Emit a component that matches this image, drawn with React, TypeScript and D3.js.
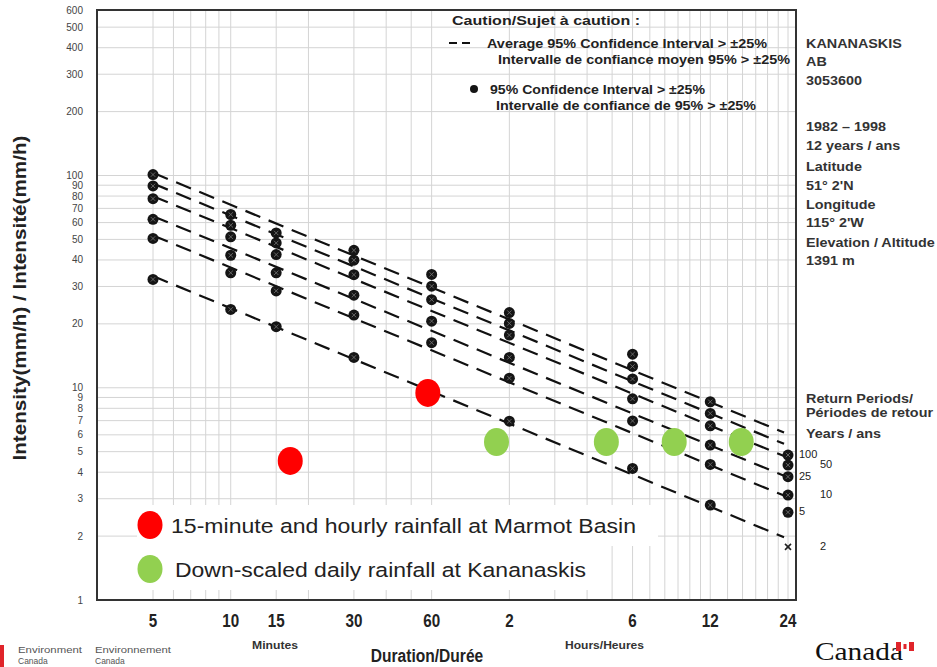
import React, { useEffect } from 'react';
import * as d3 from 'd3';

// durations in minutes
const durations = [5, 10, 15, 30, 60, 120, 360, 720, 1440];
const durationLabels = ['5', '10', '15', '30', '60', '2', '6', '12', '24'];

const returnPeriods = [2, 5, 10, 25, 50, 100];
// intensity (mm/h) per return period, one value per duration
const rp2 = [32.4, 23.4, 19.4, 13.9, 9.6, 6.96, 4.17, 2.8, 1.78];
const rp5 = [50.5, 34.8, 28.6, 22.0, 16.3, 11.1, 6.98, 4.35, 2.59];
const rp10 = [62.2, 42.1, 34.8, 27.3, 20.6, 13.9, 8.87, 5.37, 3.12];
const rp25 = [77.8, 51.4, 42.4, 34.1, 26.0, 17.7, 11.0, 6.62, 3.81];
const rp50 = [89.3, 58.3, 48.1, 39.9, 30.1, 20.1, 12.6, 7.57, 4.32];
const rp100 = [101, 65.5, 53.6, 44.4, 34.2, 22.6, 14.4, 8.59, 4.82];
const seriesValues = [rp2, rp5, rp10, rp25, rp50, rp100];

// points drawn as plain "x" (confidence interval not exceeded)
const crossPoints = [{ rp: 2, minutes: 1440 }];

// observed overlays
const marmotMinutes = [17, 58];
const marmotIntensity = [4.52, 9.45];
const kananaskisMinutes = [107, 285, 522, 949];
const kananaskisIntensity = [5.55, 5.55, 5.55, 5.55];

const yTicks = [1, 2, 3, 4, 5, 6, 7, 8, 9, 10, 20, 30, 40, 50, 60, 70, 80, 90, 100, 200, 300, 400, 500, 600];
const xGrid = [5, 6, 7, 8, 9, 10, 15, 20, 30, 40, 50, 60, 120, 180, 240, 300, 360, 420, 480, 540, 600, 660, 720, 840, 960, 1080, 1200, 1320, 1440];

const stationInfo = [
  ['KANANASKIS', 48], ['AB', 66], ['3053600', 85],
  ['1982 – 1998', 131], ['12 years / ans', 150],
  ['Latitude', 171], ['51°  2\'N', 190],
  ['Longitude', 209], ['115° 2\'W', 227],
  ['Elevation / Altitude', 247], ['1391 m', 265],
  ['Return Periods/', 403], ['Périodes de retour', 417], ['Years / ans', 438],
] as const;

const W = 937;
const H = 667;
const plot = { left: 97, right: 796, top: 10, bottom: 600 };

const x = d3.scaleLog().domain([5, 1440]).range([153, 788]);
const y = d3.scaleLog().domain([1, 100]).range([600, 175.5]);

// least squares fit in log-log space
function fit(vals: number[]) {
  const lx = durations.map(Math.log10);
  const ly = vals.map(Math.log10);
  const mx = d3.mean(lx)!;
  const my = d3.mean(ly)!;
  const b = d3.sum(lx, (v, i) => (v - mx) * (ly[i] - my)) / d3.sum(lx, v => (v - mx) ** 2);
  const a = my - b * mx;
  return (t: number) => Math.pow(10, a + b * Math.log10(t));
}

const App: React.FC = () => {
  useEffect(() => {
    document.body.style.margin = '0';
  }, []);

  const font = 'Liberation Sans, Arial, sans-serif';

  return (
    <svg width={W} height={H} style={{ display: 'block', background: '#fff' }} fontFamily={font}>
      {/* grid */}
      <g stroke="#d4d4d4" strokeWidth={1}>
        {yTicks.map(v => (
          <line key={'h' + v} x1={plot.left} x2={plot.right} y1={y(v)} y2={y(v)} />
        ))}
        {xGrid.map(t => (
          <line key={'v' + t} x1={x(t)} x2={x(t)} y1={plot.top} y2={plot.bottom} />
        ))}
      </g>

      {/* y tick labels */}
      <g fontSize={10} fill="#444" textAnchor="end">
        {yTicks.map(v => (
          <text key={'yl' + v} x={83} y={y(v) + 3.5}>{v}</text>
        ))}
      </g>

      {/* x tick labels */}
      <g fontSize={19} fontWeight="bold" fill="#222" textAnchor="middle">
        {durations.map((t, i) => (
          <text key={'xl' + t} transform={`translate(${x(t)},627) scale(0.8,1)`}>{durationLabels[i]}</text>
        ))}
      </g>

      {/* fitted dashed lines */}
      {seriesValues.map((vals, k) => {
        const f = fit(vals);
        const path = d3.line<number>().x(t => x(t)).y(t => y(f(t)))([5, 1390]);
        return (
          <path key={'fit' + k} d={path!} fill="none" stroke="#111" strokeWidth={2.2} strokeDasharray="16,9" />
        );
      })}

      {/* data markers */}
      {seriesValues.map((vals, k) =>
        vals.map((v, i) => {
          const cx = x(durations[i]);
          const cy = y(v);
          const isCross = crossPoints.some(p => p.rp === returnPeriods[k] && p.minutes === durations[i]);
          if (isCross) {
            return (
              <g key={`m${k}-${i}`} stroke="#222" strokeWidth={1.6}>
                <line x1={cx - 3} x2={cx + 3} y1={cy - 3} y2={cy + 3} />
                <line x1={cx - 3} x2={cx + 3} y1={cy + 3} y2={cy - 3} />
              </g>
            );
          }
          return (
            <g key={`m${k}-${i}`}>
              <circle cx={cx} cy={cy} r={5.5} fill="#151515" />
              <g stroke="#777" strokeWidth={0.8}>
                <line x1={cx - 2.2} x2={cx + 2.2} y1={cy - 2.2} y2={cy + 2.2} />
                <line x1={cx - 2.2} x2={cx + 2.2} y1={cy + 2.2} y2={cy - 2.2} />
              </g>
            </g>
          );
        })
      )}

      {/* return period labels */}
      <g fontSize={11} fill="#222">
        {returnPeriods.map((rp, k) => {
          const last = seriesValues[k][seriesValues[k].length - 1];
          return (
            <text key={'rp' + rp} x={k % 2 === 0 ? 820 : 799} y={y(last) + 3}>{rp}</text>
          );
        })}
      </g>

      {/* observed overlays */}
      {marmotMinutes.map((t, i) => (
        <ellipse key={'mar' + i} cx={x(t)} cy={y(marmotIntensity[i])} rx={12.5} ry={14} fill="#ff0000" />
      ))}
      {kananaskisMinutes.map((t, i) => (
        <ellipse key={'kan' + i} cx={x(t)} cy={y(kananaskisIntensity[i])} rx={12.5} ry={14} fill="#92d050" />
      ))}

      {/* overlay legend */}
      <rect x={137} y={505} width={521} height={41} fill="#fff" />
      <rect x={137} y={546} width={463} height={44} fill="#fff" />
      <ellipse cx={150} cy={525} rx={12.5} ry={14} fill="#ff0000" />
      <ellipse cx={150} cy={569} rx={12.5} ry={14} fill="#92d050" />
      <g fontSize={20.5} fill="#222">
        <text x={171} y={533} textLength={465} lengthAdjust="spacingAndGlyphs">15-minute and hourly rainfall at Marmot Basin</text>
        <text x={175} y={577} textLength={411} lengthAdjust="spacingAndGlyphs">Down-scaled daily rainfall at Kananaskis</text>
      </g>

      {/* frame */}
      <rect x={plot.left} y={plot.top} width={plot.right - plot.left} height={plot.bottom - plot.top}
        fill="none" stroke="#333" strokeWidth={2} />

      {/* caution legend */}
      <g fontSize={12.5} fontWeight="bold" fill="#222">
        <text x={452} y={25} fontSize={13.5} textLength={188} lengthAdjust="spacingAndGlyphs">Caution/Sujet à caution :</text>
        <line x1={449} x2={470} y1={43} y2={43} stroke="#111" strokeWidth={2} strokeDasharray="8,5" />
        <text x={487} y={48} textLength={280} lengthAdjust="spacingAndGlyphs">Average 95% Confidence Interval &gt; ±25%</text>
        <text x={498} y={64} textLength={292} lengthAdjust="spacingAndGlyphs">Intervalle de confiance moyen 95% &gt; ±25%</text>
        <circle cx={474} cy={89} r={4} fill="#151515" />
        <text x={490} y={94} textLength={215} lengthAdjust="spacingAndGlyphs">95% Confidence Interval &gt; ±25%</text>
        <text x={496} y={110} textLength={260} lengthAdjust="spacingAndGlyphs">Intervalle de confiance de 95% &gt; ±25%</text>
      </g>

      {/* station info */}
      <g fontSize={12.5} fontWeight="bold" fill="#333" transform="translate(806,0) scale(1.15,1)">
        {stationInfo.map(([t, yy]) => (
          <text key={t} x={0} y={yy}>{t}</text>
        ))}
      </g>

      {/* axis titles */}
      <text transform="translate(26,298) rotate(-90)" textAnchor="middle" fontSize={18} fontWeight="bold" fill="#222"
        textLength={325} lengthAdjust="spacingAndGlyphs">
        Intensity(mm/h) / Intensité(mm/h)
      </text>
      <text transform="translate(427,662) scale(0.82,1)" textAnchor="middle" fontSize={19} fontWeight="bold" fill="#222">
        Duration/Durée
      </text>
      <text x={252} y={649} fontSize={10} fontWeight="bold" fill="#333" textLength={46} lengthAdjust="spacingAndGlyphs">Minutes</text>
      <text x={565} y={649} fontSize={10} fontWeight="bold" fill="#333" textLength={79} lengthAdjust="spacingAndGlyphs">Hours/Heures</text>

      {/* footer */}
      <rect x={0} y={645} width={4} height={22} fill="#e0242a" />
      <g fontSize={8.5} fill="#555">
        <text x={18} y={653} textLength={64} lengthAdjust="spacingAndGlyphs">Environment</text>
        <text x={18} y={664}>Canada</text>
        <text x={95} y={653} textLength={76} lengthAdjust="spacingAndGlyphs">Environnement</text>
        <text x={95} y={664}>Canada</text>
      </g>
      <text x={815} y={660} fontSize={25} fontFamily="Liberation Serif, Times New Roman, serif" fill="#111"
        textLength={88} lengthAdjust="spacingAndGlyphs">Canada</text>
      <rect x={896} y={642} width={18} height={9} fill="#e0242a" />
      <rect x={901} y={642} width={8} height={9} fill="#fff" />
      <rect x={903.5} y={644} width={3} height={5} fill="#e0242a" />
    </svg>
  );
};

export default App;
